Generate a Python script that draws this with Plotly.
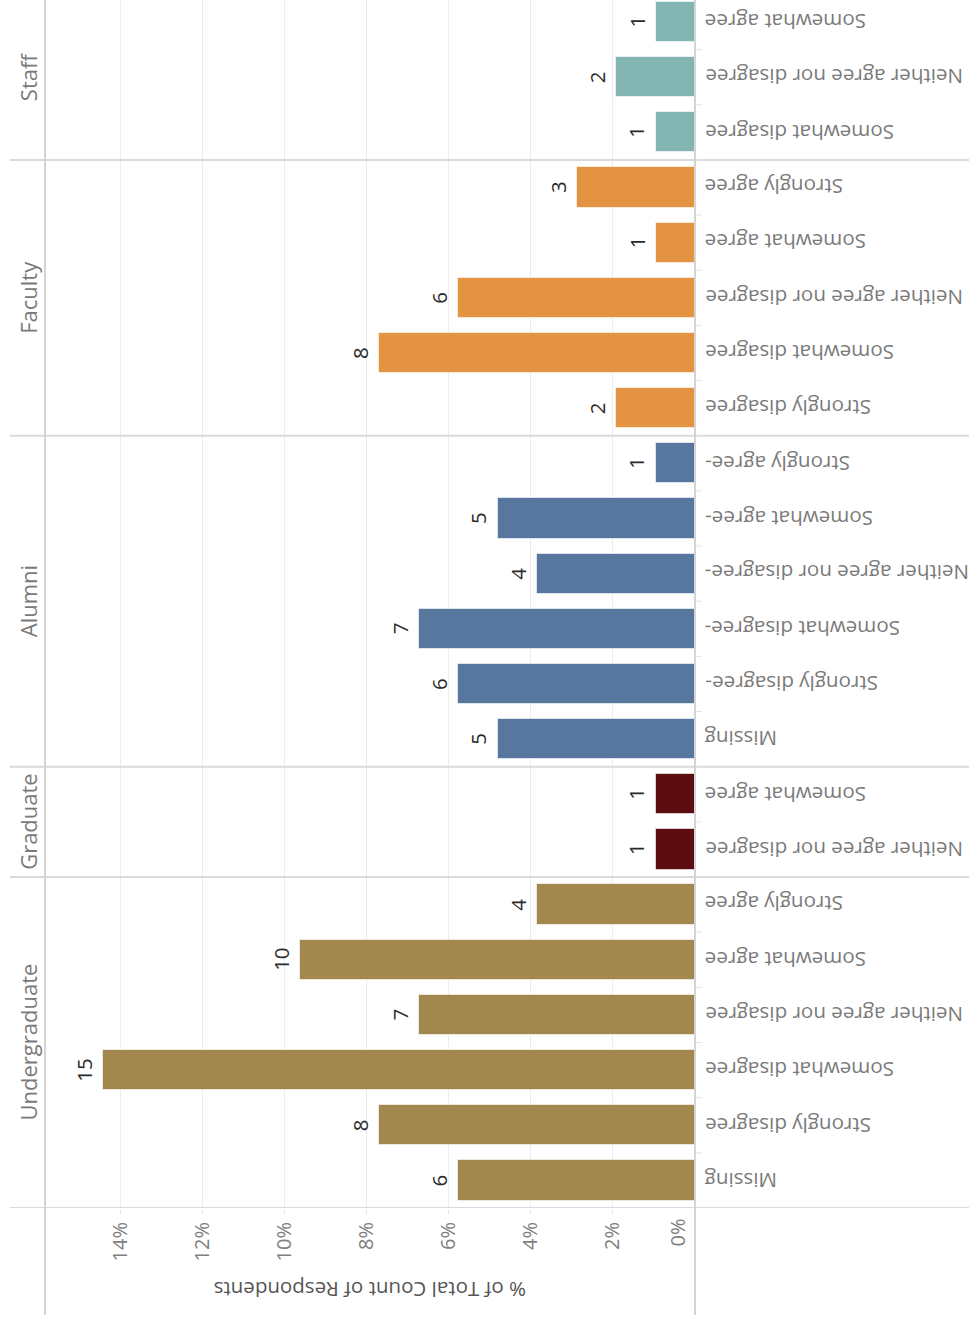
import plotly.graph_objects as go

# Survey responses by group (counts), bottom to top as drawn
groups = ["Undergraduate", "Graduate", "Alumni", "Faculty", "Staff"]
undergraduate_cats = ["Missing", "Strongly disagree", "Somewhat disagree",
                      "Neither agree nor disagree", "Somewhat agree", "Strongly agree"]
undergraduate_counts = [6, 8, 15, 7, 10, 4]
graduate_cats = ["Neither agree nor disagree", "Somewhat agree"]
graduate_counts = [1, 1]
alumni_cats = ["Missing", "Strongly disagree-", "Somewhat disagree-",
               "Neither agree nor disagree-", "Somewhat agree-", "Strongly agree-"]
alumni_counts = [5, 6, 7, 4, 5, 1]
faculty_cats = ["Strongly disagree", "Somewhat disagree", "Neither agree nor disagree",
                "Somewhat agree", "Strongly agree"]
faculty_counts = [2, 8, 6, 1, 3]
staff_cats = ["Somewhat disagree", "Neither agree nor disagree", "Somewhat agree"]
staff_counts = [1, 2, 1]

group_colors = ["#A2884F", "#5B0D12", "#57779F", "#E49343", "#82B5B1"]
tick_values = [0, 2, 4, 6, 8, 10, 12, 14]
tick_labels = ["0%", "2%", "4%", "6%", "8%", "10%", "12%", "14%"]

group_cats = [undergraduate_cats, graduate_cats, alumni_cats, faculty_cats, staff_cats]
group_counts = [undergraduate_counts, graduate_counts, alumni_counts, faculty_counts, staff_counts]
total = sum(sum(c) for c in group_counts)

FONT = "Open Sans"
W, H = 969, 1323
L, R, T, B = 45, 274, 0, 115
plot_w = W - L - R
plot_h = H - T - B


def px_to_paper_x(px):
    return (px - L) / plot_w


def px_to_paper_y(py):
    return (H - B - py) / plot_h


fig = go.Figure()
annotations = []
shapes = []

row = 0
for g, cats, counts, color in zip(groups, group_cats, group_counts, group_colors):
    start = row
    ys = list(range(row, row + len(cats)))
    pcts = [c / total * 100 for c in counts]
    fig.add_trace(go.Bar(
        x=pcts, y=ys, orientation="h", width=0.73,
        marker=dict(color=color, line=dict(color="rgba(255,255,255,0.6)", width=1)),
        hoverinfo="skip", showlegend=False,
    ))
    for y, cat, cnt, pct in zip(ys, cats, counts, pcts):
        # value label beyond the bar end
        annotations.append(dict(
            x=pct, y=y, xref="x", yref="y", text=str(cnt), showarrow=False,
            textangle=-90, xanchor="right", yanchor="middle", xshift=-3,
            font=dict(family=FONT, size=20.5, color="#2b2b2b"),
        ))
        # category label
        annotations.append(dict(
            x=px_to_paper_x(703), y=y, xref="paper", yref="y", text=cat,
            showarrow=False, textangle=180, xanchor="left", yanchor="middle",
            font=dict(family=FONT, size=20.6, color="#7a7a7a"),
        ))
    row += len(cats)
    # group header
    annotations.append(dict(
        x=px_to_paper_x(28), y=(start + row - 1) / 2, xref="paper", yref="y",
        text=g, showarrow=False, textangle=-90, xanchor="center", yanchor="middle",
        font=dict(family=FONT, size=22, color="#7a7a7a"),
    ))
    # separator below each group
    shapes.append(dict(
        type="line", xref="paper", yref="y",
        x0=px_to_paper_x(10), x1=px_to_paper_x(969), y0=start - 0.5, y1=start - 0.5,
        line=dict(color="#d9d9d9", width=2),
    ))

# small row ticks next to the category labels
for r in range(1, row):
    shapes.append(dict(
        type="line", xref="paper", yref="y",
        x0=px_to_paper_x(695), x1=px_to_paper_x(702), y0=r - 0.5, y1=r - 0.5,
        line=dict(color="#e6e6e6", width=1),
    ))

# vertical dividers: header column and zero axis
for xp in (45, 695):
    shapes.append(dict(
        type="line", xref="paper", yref="paper",
        x0=px_to_paper_x(xp), x1=px_to_paper_x(xp), y0=px_to_paper_y(1315), y1=1.01,
        line=dict(color="#d4d4d4", width=2),
    ))

# the 0% label sits just inside the zero line
axis_text = [t if v != 0 else "" for v, t in zip(tick_values, tick_labels)]
annotations.append(dict(
    x=0, y=0, xref="x", yref="paper", text=tick_labels[0], showarrow=False,
    textangle=-90, xanchor="right", yanchor="top", xshift=-3, yshift=-9,
    font=dict(family=FONT, size=20, color="#808080"),
))

# axis title
annotations.append(dict(
    x=0.5, y=px_to_paper_y(1290), xref="paper", yref="paper",
    text="% of Total Count of Respondents", showarrow=False, textangle=180,
    xanchor="center", yanchor="middle",
    font=dict(family=FONT, size=20.5, color="#555555"),
))

x_max = (695 - 45) / ((695 - 120) / 14)
rows_per_px = 21 / (1180 - 22)
y_top = 21 + 22 * rows_per_px

fig.update_layout(
    width=W, height=H,
    margin=dict(l=L, r=R, t=T, b=B),
    paper_bgcolor="white", plot_bgcolor="white",
    bargap=0,
    xaxis=dict(
        range=[x_max, 0], tickvals=tick_values, ticktext=axis_text,
        tickangle=-90, showgrid=True, gridcolor="#ececec", gridwidth=1,
        zeroline=False, showline=False, ticks="outside", ticklen=5,
        tickcolor="#e6e6e6",
        tickfont=dict(family=FONT, size=20, color="#808080"),
    ),
    yaxis=dict(
        range=[-0.5, y_top], showticklabels=False, showgrid=False,
        zeroline=False, showline=False,
    ),
    annotations=annotations,
    shapes=shapes,
)

fig.write_html("out.html")
